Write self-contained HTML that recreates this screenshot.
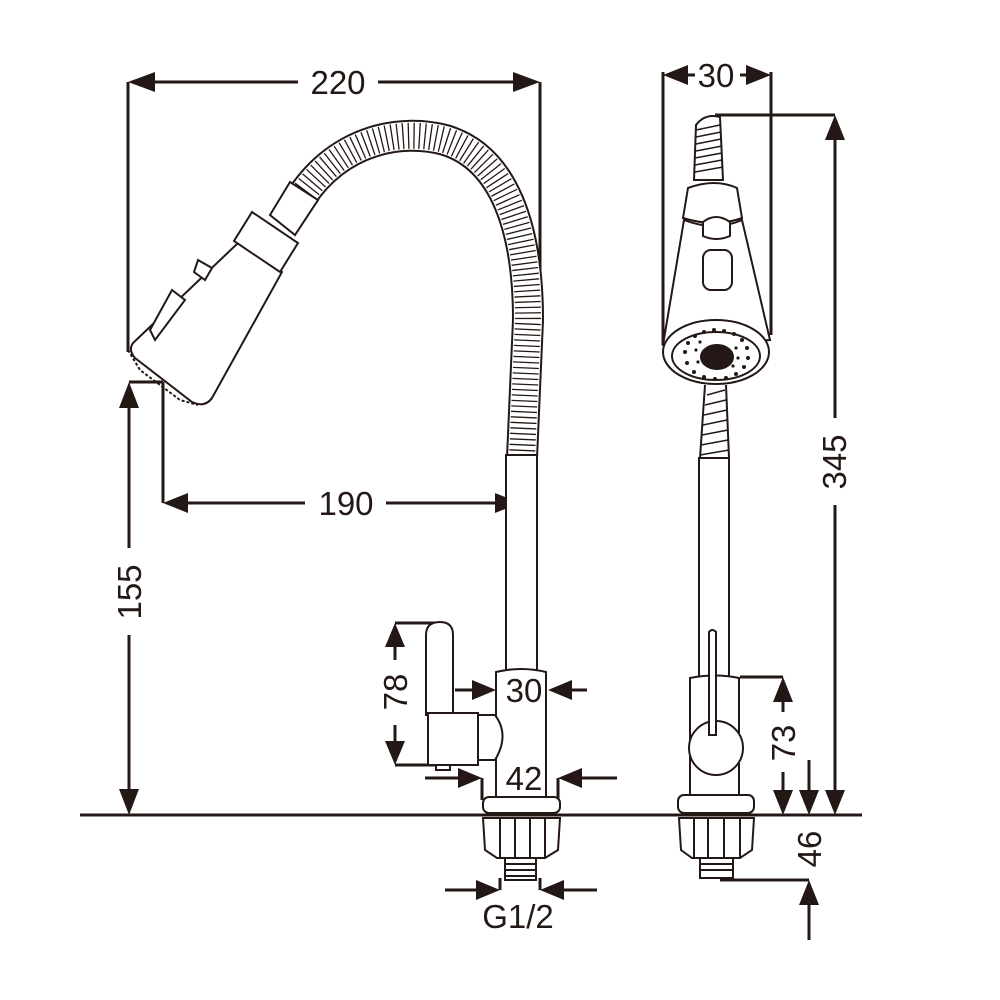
<!DOCTYPE html>
<html><head><meta charset="utf-8"><style>
html,body{margin:0;padding:0;background:#fff}
svg{display:block}
text{font-family:"Liberation Sans",sans-serif;font-size:33px;fill:#231815}
</style></head><body>
<svg width="1000" height="1000" viewBox="0 0 1000 1000">
<g stroke="#231815" fill="none">
<line x1="80" y1="815" x2="862" y2="815" stroke-width="3"/>
<g stroke-width="3" fill="#231815">
<line x1="128" y1="82" x2="128" y2="352"/>
<line x1="540" y1="82" x2="540" y2="310"/>
<path d="M128,82 L155,72 L155,92 Z M540,82 L513,72 L513,92 Z" stroke="none"/>
<line x1="150" y1="82" x2="298" y2="82"/><line x1="378" y1="82" x2="520" y2="82"/>
<line x1="663" y1="72" x2="663" y2="345"/>
<line x1="771" y1="72" x2="771" y2="335"/>
<path d="M663,75 L688,65 L688,85 Z M771,75 L746,65 L746,85 Z" stroke="none"/>
<line x1="685" y1="75" x2="695" y2="75"/><line x1="740" y1="75" x2="750" y2="75"/>
<line x1="715" y1="115" x2="835" y2="115"/>
<path d="M835,115 L825,140 L845,140 Z M835,815 L825,790 L845,790 Z" stroke="none"/>
<line x1="835" y1="135" x2="835" y2="418"/><line x1="835" y1="505" x2="835" y2="795"/>
<line x1="129" y1="382" x2="163" y2="382"/>
<line x1="163" y1="382" x2="163" y2="503"/>
<path d="M129,382 L119,408 L139,408 Z M129,815 L119,789 L139,789 Z" stroke="none"/>
<line x1="129" y1="405" x2="129" y2="548"/><line x1="129" y1="635" x2="129" y2="792"/>
<path d="M163,503 L188,493 L188,513 Z M520,503 L495,493 L495,513 Z" stroke="none"/>
<line x1="185" y1="503" x2="305" y2="503"/><line x1="386" y1="503" x2="500" y2="503"/>
<line x1="521" y1="481" x2="521" y2="525"/>
<line x1="395" y1="623" x2="437" y2="623"/>
<line x1="395" y1="765" x2="437" y2="765"/>
<path d="M395,623 L385,647 L405,647 Z M395,765 L385,741 L405,741 Z" stroke="none"/>
<line x1="395" y1="640" x2="395" y2="660"/><line x1="395" y1="725" x2="395" y2="745"/>
<path d="M496,690 L472,680 L472,700 Z M548,690 L572,680 L572,700 Z" stroke="none"/>
<line x1="455" y1="690" x2="475" y2="690"/><line x1="570" y1="690" x2="587" y2="690"/>
<path d="M482,778 L458,768 L458,788 Z M558,778 L582,768 L582,788 Z" stroke="none"/>
<line x1="425" y1="778" x2="462" y2="778"/><line x1="578" y1="778" x2="617" y2="778"/>
<line x1="482" y1="778" x2="482" y2="800"/><line x1="558" y1="778" x2="558" y2="800"/>
<path d="M500,890 L476,880 L476,900 Z M540,890 L564,880 L564,900 Z" stroke="none"/>
<line x1="445" y1="890" x2="480" y2="890"/><line x1="560" y1="890" x2="597" y2="890"/>
<line x1="500" y1="878" x2="500" y2="890"/><line x1="540" y1="878" x2="540" y2="890"/>
<line x1="740" y1="677" x2="783" y2="677"/>
<path d="M783,677 L773,702 L793,702 Z M783,815 L773,790 L793,790 Z" stroke="none"/>
<line x1="783" y1="700" x2="783" y2="712"/><line x1="783" y1="772" x2="783" y2="792"/>
<path d="M809,815 L799,790 L819,790 Z M809,880 L799,905 L819,905 Z" stroke="none"/>
<line x1="809" y1="760" x2="809" y2="795"/><line x1="809" y1="900" x2="809" y2="940"/>
<line x1="720" y1="880" x2="809" y2="880"/>
</g>

<g stroke-width="2" fill="#fff">
<path d="M302,196 C340,140 400,128 445,140 C505,158 528,230 528,320 L522,458" stroke-width="32" fill="none"/>
<path d="M302,196 C340,140 400,128 445,140 C505,158 528,230 528,320 L522,458" stroke="#fff" stroke-width="28" fill="none"/>
<path d="M302,196 C340,140 400,128 445,140 C505,158 528,230 528,320 L522,458" stroke-width="26" stroke-dasharray="1.3 4.2" fill="none"/>
<path d="M270,215 L290,182 L318,200 L295,235 Z"/>
<path d="M238,243 L282,272 L212,398 Q205,408 192,402 L135,358 Q128,350 133,343 Z"/>
<path d="M128,350 L140,370 L180,400 L198,405" stroke-width="2" fill="none" stroke-dasharray="3 2"/>
<path d="M198,260 L212,268 L205,280 L194,272 Z"/>
<path d="M172,290 L185,300 L155,340 L150,330 Z"/>
<path d="M252,212 L298,243 L280,272 L234,241 Z"/>
<rect x="506" y="455" width="31" height="218"/>
<path d="M496,672 Q521,666 546,672 L546,797 L496,797 Z"/>
<rect x="483" y="797" width="77" height="16" rx="6"/>
<path d="M483,818 L560,818 L558,850 L545,858 L497,858 L485,850 Z"/>
<line x1="500" y1="818" x2="500" y2="858"/><line x1="515" y1="818" x2="515" y2="858"/><line x1="530" y1="818" x2="530" y2="858"/><line x1="545" y1="818" x2="545" y2="858"/>
<rect x="505" y="858" width="31" height="22"/>
<line x1="505" y1="864" x2="536" y2="864"/><line x1="505" y1="870" x2="536" y2="870"/><line x1="505" y1="876" x2="536" y2="876"/>
<path d="M478,715 L495,715 Q510,735 495,760 L478,760 Z"/>
<path d="M426,715 L426,635 Q426,622 440,622 Q453,622 453,635 L453,715 Z"/>
<rect x="428" y="713" width="50" height="52"/>
<rect x="436" y="765" width="14" height="5"/>
</g>

<g stroke-width="2" fill="#fff">
<path d="M704,385 L728,385 L729,458 L700,458 Z" stroke="none"/>
<path d="M705,385 L700,458 M726,385 L729,458" fill="none"/>
<path d="M707,395 L725,390 M705,405 L726,400 M704,415 L727,410 M703,425 L727,420 M702,435 L728,430 M701,445 L728,440 M700,455 L729,450" stroke-width="1.5" fill="none"/>
<rect x="699" y="458" width="30" height="220"/>
<path d="M690,678 Q715,673 739,678 L739,795 L690,795 Z"/>
<circle cx="716" cy="748" r="27"/>
<path d="M709,735 L709,632 Q712,628 716,632 L716,735 Z"/>
<rect x="678" y="795" width="76" height="18" rx="6"/>
<path d="M679,818 L754,818 L752,850 L740,858 L692,858 L681,850 Z"/>
<line x1="694" y1="818" x2="694" y2="858"/><line x1="708" y1="818" x2="708" y2="858"/><line x1="724" y1="818" x2="724" y2="858"/><line x1="740" y1="818" x2="740" y2="858"/>
<rect x="700" y="858" width="33" height="20"/>
<line x1="700" y1="864" x2="733" y2="864"/><line x1="700" y1="870" x2="733" y2="870"/>
<path d="M694,180 L696,125 Q705,113 720,117 L723,180 Z"/>
<path d="M696,130 L720,125 M696,137 L721,132 M696,144 L721,139 M696,151 L722,146 M695,158 L722,153 M695,165 L722,160 M695,172 L723,167" stroke-width="1.5" fill="none"/>
<path d="M688,188 Q715,178 737,188 L742,218 Q715,228 683,218 Z"/>
<path d="M684,220 Q715,232 742,220 L770,340 L663,345 Z"/>
<path d="M703,222 Q716,212 730,222 L730,236 Q716,242 703,236 Z"/>
<rect x="703" y="250" width="29" height="40" rx="8"/>
<ellipse cx="716" cy="352" rx="53" ry="32"/>
<ellipse cx="716" cy="356" rx="44" ry="24"/>
<ellipse cx="717" cy="357" rx="16" ry="12" fill="#231815"/>
</g>
<g fill="#231815" stroke="none">
<circle cx="685" cy="352" r="2"/><circle cx="688" cy="343" r="2"/><circle cx="695" cy="336" r="2"/><circle cx="704" cy="332" r="2"/><circle cx="714" cy="330" r="2"/><circle cx="724" cy="331" r="2"/><circle cx="734" cy="334" r="2"/><circle cx="742" cy="340" r="2"/><circle cx="747" cy="348" r="2"/><circle cx="748" cy="358" r="2"/><circle cx="744" cy="367" r="2"/><circle cx="736" cy="374" r="2"/><circle cx="726" cy="378" r="2"/><circle cx="715" cy="379" r="2"/><circle cx="704" cy="377" r="2"/><circle cx="694" cy="372" r="2"/><circle cx="687" cy="363" r="2"/>
<circle cx="696" cy="350" r="1.6"/><circle cx="700" cy="342" r="1.6"/><circle cx="736" cy="348" r="1.6"/><circle cx="738" cy="358" r="1.6"/><circle cx="733" cy="366" r="1.6"/><circle cx="698" cy="362" r="1.6"/>
</g>
</g>

<text x="338" y="94" text-anchor="middle">220</text>
<text x="716" y="87" text-anchor="middle">30</text>
<text x="346" y="515" text-anchor="middle">190</text>
<text x="524" y="702" text-anchor="middle">30</text>
<text x="524" y="790" text-anchor="middle">42</text>
<text x="518" y="928" text-anchor="middle">G1/2</text>
<text transform="translate(141,592) rotate(-90)" text-anchor="middle">155</text>
<text transform="translate(407,692) rotate(-90)" text-anchor="middle">78</text>
<text transform="translate(846,462) rotate(-90)" text-anchor="middle">345</text>
<text transform="translate(795,743) rotate(-90)" text-anchor="middle">73</text>
<text transform="translate(821,849) rotate(-90)" text-anchor="middle">46</text>
</svg>
</body></html>
